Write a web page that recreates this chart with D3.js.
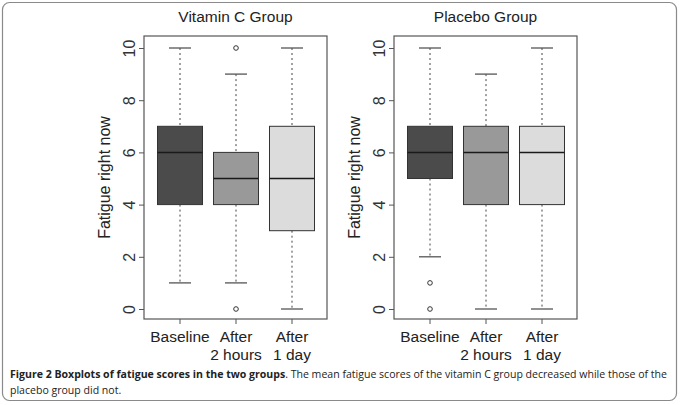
<!DOCTYPE html>
<html>
<head>
<meta charset="utf-8">
<script src="https://cdn.jsdelivr.net/npm/d3@7"></script>
<style>
  body { margin: 0; background: #fff; }
  svg { display: block; }
</style>
</head>
<body>
<svg id="chart" width="680" height="405"></svg>
<script>
var groups = ["Vitamin C Group", "Placebo Group"];
var categories = ["Baseline", "After\n2 hours", "After\n1 day"];
var fills = ["#4b4b4b", "#999999", "#dcdcdc"];
var yTicks = [0, 2, 4, 6, 8, 10];

// [lower whisker, q1, median, q3, upper whisker]
var vitaminStats = [[1, 4, 6, 7, 10], [1, 4, 5, 6, 9], [0, 3, 5, 7, 10]];
var placeboStats = [[2, 5, 6, 7, 10], [0, 4, 6, 7, 9], [0, 4, 6, 7, 10]];
var vitaminOutliers = [[], [10, 0], []];
var placeboOutliers = [[1, 0], [], []];

var svg = d3.select("svg#chart");

svg.append("rect")
   .attr("x", 2.5).attr("y", 2.5)
   .attr("width", 674).attr("height", 398)
   .attr("rx", 7)
   .attr("fill", "none")
   .attr("stroke", "#8a8a8a")
   .attr("stroke-width", 1.2);

var y = d3.scaleLinear().domain([0, 10]).range([309, 48]);

function drawPanel(offset, title, stats, outliers) {
  var g = svg.append("g").attr("transform", "translate(" + offset + ",0)");
  var x = d3.scalePoint().domain(categories).range([180, 292]);
  var boxW = 45, capW = 22;

  g.append("text")
   .attr("x", 235.5).attr("y", 22)
   .attr("text-anchor", "middle")
   .attr("font-family", "Liberation Sans, Arial, sans-serif")
   .attr("font-size", 15.5)
   .attr("fill", "#222")
   .text(title);

  g.append("rect")
   .attr("x", 144).attr("y", 36)
   .attr("width", 183).attr("height", 283)
   .attr("fill", "none")
   .attr("stroke", "#555")
   .attr("stroke-width", 1.2);

  // y axis, labels turned like R's default
  var yAxis = g.append("g")
    .attr("transform", "translate(144,0)")
    .call(d3.axisLeft(y).tickValues(yTicks).tickSize(5));
  yAxis.select(".domain").remove();
  yAxis.selectAll("line").attr("stroke", "#555");
  yAxis.selectAll("text")
    .attr("font-family", "Liberation Sans, Arial, sans-serif")
    .attr("font-size", 16)
    .attr("fill", "#333")
    .attr("text-anchor", "middle")
    .attr("transform", "rotate(-90)")
    .attr("x", 0).attr("y", -9).attr("dy", 0);

  g.append("text")
   .attr("transform", "translate(110,177.5) rotate(-90)")
   .attr("text-anchor", "middle")
   .attr("font-family", "Liberation Sans, Arial, sans-serif")
   .attr("font-size", 16)
   .attr("fill", "#222")
   .text("Fatigue right now");

  // x ticks and labels
  categories.forEach(function(c) {
    g.append("line")
     .attr("x1", x(c)).attr("x2", x(c))
     .attr("y1", 319).attr("y2", 324)
     .attr("stroke", "#555");
    var t = g.append("text")
     .attr("x", x(c)).attr("y", 342)
     .attr("text-anchor", "middle")
     .attr("font-family", "Liberation Sans, Arial, sans-serif")
     .attr("font-size", 15.5)
     .attr("fill", "#222");
    c.split("\n").forEach(function(line, i) {
      t.append("tspan").attr("x", x(c)).attr("dy", i === 0 ? 0 : 17.5).text(line);
    });
  });

  var box = g.selectAll("g.box")
    .data(categories.map(function(c, i) { return {cat: c, s: stats[i], out: outliers[i], fill: fills[i]}; }))
    .enter().append("g").attr("class", "box");

  // dotted whiskers
  box.append("line")
     .attr("x1", function(d) { return x(d.cat); })
     .attr("x2", function(d) { return x(d.cat); })
     .attr("y1", function(d) { return y(d.s[4]); })
     .attr("y2", function(d) { return y(d.s[3]); })
     .attr("stroke", "#444").attr("stroke-dasharray", "2,3");
  box.append("line")
     .attr("x1", function(d) { return x(d.cat); })
     .attr("x2", function(d) { return x(d.cat); })
     .attr("y1", function(d) { return y(d.s[1]); })
     .attr("y2", function(d) { return y(d.s[0]); })
     .attr("stroke", "#444").attr("stroke-dasharray", "2,3");

  // caps
  [0, 4].forEach(function(k) {
    box.append("line")
       .attr("x1", function(d) { return x(d.cat) - capW / 2; })
       .attr("x2", function(d) { return x(d.cat) + capW / 2; })
       .attr("y1", function(d) { return y(d.s[k]); })
       .attr("y2", function(d) { return y(d.s[k]); })
       .attr("stroke", "#555").attr("stroke-width", 1.3);
  });

  box.append("rect")
     .attr("x", function(d) { return x(d.cat) - boxW / 2; })
     .attr("width", boxW)
     .attr("y", function(d) { return y(d.s[3]); })
     .attr("height", function(d) { return y(d.s[1]) - y(d.s[3]); })
     .attr("fill", function(d) { return d.fill; })
     .attr("stroke", "#333").attr("stroke-width", 1);

  box.append("line")
     .attr("x1", function(d) { return x(d.cat) - boxW / 2; })
     .attr("x2", function(d) { return x(d.cat) + boxW / 2; })
     .attr("y1", function(d) { return y(d.s[2]); })
     .attr("y2", function(d) { return y(d.s[2]); })
     .attr("stroke", "#1a1a1a").attr("stroke-width", 1.5);

  box.selectAll("circle")
     .data(function(d) { return d.out.map(function(v) { return {cat: d.cat, v: v}; }); })
     .enter().append("circle")
     .attr("cx", function(d) { return x(d.cat); })
     .attr("cy", function(d) { return y(d.v); })
     .attr("r", 2.3)
     .attr("fill", "none")
     .attr("stroke", "#333").attr("stroke-width", 1);
}

drawPanel(0, groups[0], vitaminStats, vitaminOutliers);
drawPanel(250, groups[1], placeboStats, placeboOutliers);

var caption = svg.append("text")
  .attr("x", 10).attr("y", 378)
  .attr("font-family", "Open Sans, Noto Sans, sans-serif")
  .attr("font-size", 10.55)
  .attr("fill", "#222");
caption.append("tspan").attr("font-weight", "bold").text("Figure 2 Boxplots of fatigue scores in the two groups");
caption.append("tspan").text(". The mean fatigue scores of the vitamin C group decreased while those of the");
svg.append("text")
  .attr("x", 10).attr("y", 394)
  .attr("font-family", "Open Sans, Noto Sans, sans-serif")
  .attr("font-size", 10.55)
  .attr("fill", "#222")
  .text("placebo group did not.");
</script>
</body>
</html>
